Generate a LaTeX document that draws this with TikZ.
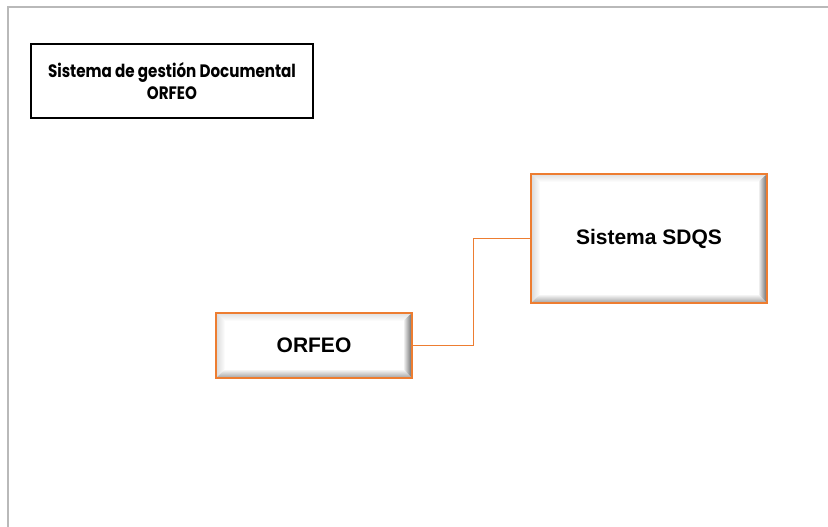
\documentclass[tikz,border=0pt]{standalone}
\usepackage{fontspec}
\setmainfont{Liberation Sans}
\newfontfamily\titlefont[FakeStretch=0.84]{Poppins}
\usetikzlibrary{calc}
\definecolor{boxorange}{RGB}{237,125,49}
\definecolor{framegray}{RGB}{185,185,185}
\tikzset{
  titlebox/.style={draw=black, line width=1.5pt, fill=white,
    minimum width=282, minimum height=74, align=center,
    font=\titlefont\bfseries\fontsize{18}{22}\selectfont},
  bevelbox/.style={draw=boxorange, line width=1.2pt, fill=white,
    inner sep=0pt, font=\bfseries\fontsize{21}{23}\selectfont,
    path picture={
      \coordinate (nw) at (path picture bounding box.north west);
      \coordinate (ne) at (path picture bounding box.north east);
      \coordinate (se) at (path picture bounding box.south east);
      \coordinate (sw) at (path picture bounding box.south west);
      \coordinate (inw) at ($(nw)+(9pt,-8pt)$);
      \coordinate (ine) at ($(ne)+(-9pt,-8pt)$);
      \coordinate (ise) at ($(se)+(-9pt,9pt)$);
      \coordinate (isw) at ($(sw)+(9pt,9pt)$);
      \shade[top color=gray!25, bottom color=white] (nw) -- (ne) -- (ine) -- (inw) -- cycle;
      \shade[left color=gray!30, right color=white] (nw) -- (inw) -- (isw) -- (sw) -- cycle;
      \shade[top color=white, bottom color=gray!75] (sw) -- (isw) -- (ise) -- (se) -- cycle;
      \shade[left color=white, right color=gray!80!black] (ne) -- (ine) -- (ise) -- (se) -- cycle;
      \draw[black!80, line width=1.5pt] ($(ne)+(-0.5pt,0)$) -- ($(se)+(-0.5pt,0)$);
    }},
  link/.style={draw=boxorange, line width=0.8pt},
}

\begin{document}
\begin{tikzpicture}[x=1pt,y=-1pt]
\useasboundingbox (0,0) rectangle (828,527);
% page frame
\draw[framegray, line width=2pt] (8,527) -- (8,7) -- (828,7);

\node[titlebox] (title) at (172,81) {Sistema de gestión Documental\\ORFEO};

\node[bevelbox, minimum width=196, minimum height=65] (orfeo) at (314,345.5) {ORFEO};
\node[bevelbox, minimum width=236, minimum height=129] (sdqs) at (649,238.5) {Sistema SDQS};

\draw[link] (orfeo.east) -- ++(61,0) |- (sdqs.west);

\end{tikzpicture}
\end{document}
